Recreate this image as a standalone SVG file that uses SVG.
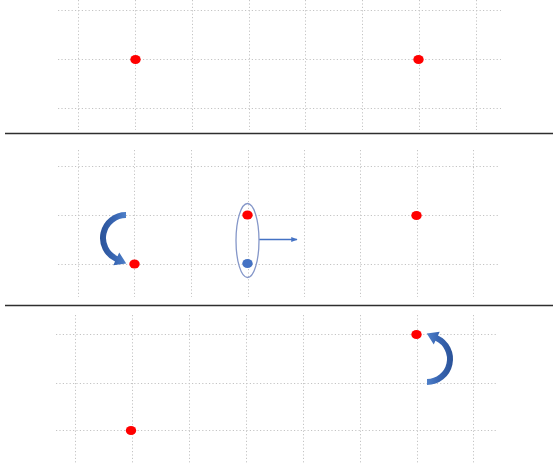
<svg xmlns="http://www.w3.org/2000/svg" width="553" height="470" viewBox="0 0 553 470">
<defs>
<style>
.grid{stroke:#c4c4c4;stroke-width:1;stroke-dasharray:1.2 2.2;fill:none}
.sep{stroke:#2e2e2e;stroke-width:1.6}
.red{fill:#ff0000}
.blue{fill:#4472c4}
.conn{stroke:#4472c4;stroke-width:1.6;fill:none}
</style>
<linearGradient id="ag" x1="0" y1="0" x2="1" y2="0">
<stop offset="0" stop-color="#2a5298"/>
<stop offset="0.6" stop-color="#3a68b5"/>
<stop offset="1" stop-color="#4f80c9"/>
</linearGradient>
<marker id="ah" viewBox="0 0 10 10" refX="9" refY="5" markerWidth="4" markerHeight="4" orient="auto">
<path d="M0,1 L10,5 L0,9 Z" fill="#4472c4"/>
</marker>
<path id="curv" d="M0,-26 A26,26 0 0 0 -10.99,23.56 L-12.68,27.19 L0.25,25.5 L-6.76,14.5 L-8.45,18.13 A20,20 0 0 1 0,-20 Z" fill="url(#ag)"/>
</defs>
<rect width="553" height="470" fill="#ffffff"/>
<g id="grid">
<path class="grid" d="M58,10.5H501M58,59.5H501M58,108.5H501M78.5,0V130M135.5,0V130M192.5,0V130M249.5,0V130M305.5,0V130M362.5,0V130M419.5,0V130M476.5,0V130"/>
<path class="grid" d="M58,166.5H498M58,215.5H498M58,264.5H498M78.5,150V297M134.5,150V297M191.5,150V297M248.5,150V297M304.5,150V297M360.5,150V297M417.5,150V297M473.5,150V297"/>
<path class="grid" d="M56,334.5H498M56,383.5H498M56,430.5H498M75.5,315V463M132.5,315V463M189.5,315V463M246.5,315V463M303.5,315V463M360.5,315V463M417.5,315V463M473.5,315V463"/>
</g>
<g id="separators">
<line class="sep" x1="5" y1="133.5" x2="553" y2="133.5"/>
<line class="sep" x1="5" y1="305.5" x2="553" y2="305.5"/>
</g>
<g id="connectors">
<use href="#curv" transform="translate(126,238)"/>
<use href="#curv" transform="translate(427,359) rotate(180)"/>
<line class="conn" x1="259" y1="239.5" x2="297" y2="239.5" marker-end="url(#ah)"/>
</g>
<g id="top-left"><ellipse class="red" cx="135.5" cy="59.5" rx="5.2" ry="4.6"/></g>
<g id="top-right"><ellipse class="red" cx="418.5" cy="59.5" rx="5.2" ry="4.6"/></g>
<g id="mid-left"><ellipse class="red" cx="134.5" cy="264" rx="5.2" ry="4.6"/></g>
<g id="mid-pair">
<ellipse cx="247.5" cy="240.5" rx="11.5" ry="37" fill="none" stroke="#8597c9" stroke-width="1.3"/>
<ellipse class="red" cx="247.5" cy="215" rx="5.2" ry="4.6"/>
<ellipse class="blue" cx="247.5" cy="263.5" rx="5.2" ry="4.6"/>
</g>
<g id="mid-right"><ellipse class="red" cx="416.5" cy="215.5" rx="5.2" ry="4.6"/></g>
<g id="bot-right"><ellipse class="red" cx="416.5" cy="334.5" rx="5.2" ry="4.6"/></g>
<g id="bot-left"><ellipse class="red" cx="131" cy="430.5" rx="5.2" ry="4.6"/></g>
</svg>
